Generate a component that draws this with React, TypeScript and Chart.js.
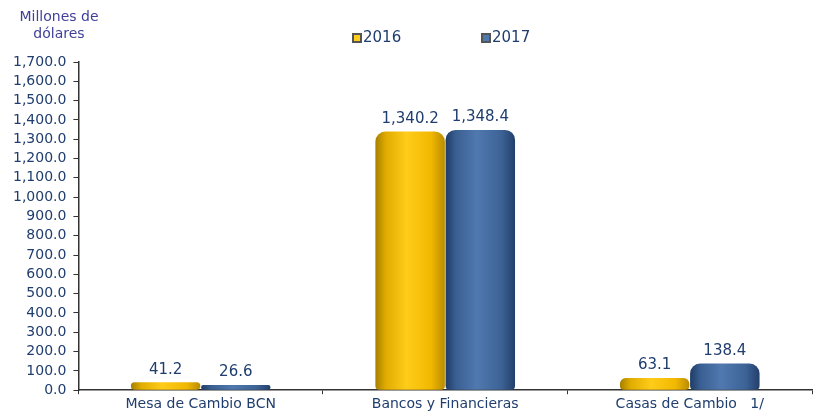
import React, { useEffect, useRef } from "react";
import { Chart, registerables } from "chart.js";

Chart.register(...registerables);

const categories = ["Mesa de Cambio BCN", "Bancos y Financieras", "Casas de Cambio   1/"];
const seriesNames = ["2016", "2017"];
const values2016 = [41.2, 1340.2, 63.1];
const values2017 = [26.6, 1348.4, 138.4];
const axisTitle = ["Millones de", "dólares"];

const FONT = "'DejaVu Sans', Verdana, sans-serif";
const TEXT = "#1F3D6E";

const palettes = [
  ["#A67F00", "#E0AC00", "#FFCC1A", "#F2B800", "#B88C00"],
  ["#1F3C66", "#3A5F92", "#5079B0", "#3D6396", "#233F6B"],
];

const fmt = (v: number) =>
  v.toLocaleString("en-US", { minimumFractionDigits: 1, maximumFractionDigits: 1 });

const gradientPlugin = {
  id: "cylGradient",
  afterDatasetsUpdate(chart: any) {
    const ctx = chart.ctx;
    chart.data.datasets.forEach((ds: any, di: number) => {
      const meta = chart.getDatasetMeta(di);
      meta.data.forEach((el: any) => {
        const left = el.x - el.width / 2;
        const right = el.x + el.width / 2;
        if (!isFinite(left) || !isFinite(right)) return;
        const g = ctx.createLinearGradient(left, 0, right, 0);
        const p = palettes[di];
        g.addColorStop(0, p[0]);
        g.addColorStop(0.15, p[1]);
        g.addColorStop(0.45, p[2]);
        g.addColorStop(0.8, p[3]);
        g.addColorStop(1, p[4]);
        el.options = Object.assign({}, el.options, { backgroundColor: g });
      });
    });
  },
};

const labelsPlugin = {
  id: "valueLabels",
  afterDatasetsDraw(chart: any) {
    const ctx = chart.ctx;
    ctx.save();
    ctx.font = `15px ${FONT}`;
    ctx.fillStyle = TEXT;
    ctx.textAlign = "center";
    ctx.textBaseline = "bottom";
    chart.data.datasets.forEach((ds: any, di: number) => {
      const meta = chart.getDatasetMeta(di);
      meta.data.forEach((el: any, i: number) => {
        ctx.fillText(fmt(ds.data[i]), el.x, el.y - 5);
      });
    });
    ctx.restore();
  },
};

const decorPlugin = {
  id: "decor",
  afterDraw(chart: any) {
    const ctx = chart.ctx;
    ctx.save();
    ctx.font = `14px ${FONT}`;
    ctx.fillStyle = "#3F3F9A";
    ctx.textAlign = "center";
    ctx.textBaseline = "middle";
    ctx.fillText(axisTitle[0], 59, 17);
    ctx.fillText(axisTitle[1], 59, 34);
    const items = [
      { x: 352, color: palettes[0] },
      { x: 481, color: palettes[1] },
    ];
    items.forEach((it, i) => {
      const y = 33;
      ctx.fillStyle = "#555";
      ctx.fillRect(it.x, y, 10, 10);
      ctx.fillStyle = it.color[2];
      ctx.fillRect(it.x + 2, y + 2, 6, 6);
      ctx.font = `15px ${FONT}`;
      ctx.fillStyle = TEXT;
      ctx.textAlign = "left";
      ctx.textBaseline = "middle";
      ctx.fillText(seriesNames[i], it.x + 11, y + 5);
    });
    ctx.restore();
  },
};

export default function App() {
  const ref = useRef<HTMLCanvasElement>(null);
  useEffect(() => {
    if (!ref.current) return;
    const chart = new Chart(ref.current, {
      type: "bar",
      data: {
        labels: categories,
        datasets: [
          { label: seriesNames[0], data: values2016 },
          { label: seriesNames[1], data: values2017 },
        ],
      },
      options: {
        animation: false,
        responsive: false,
        maintainAspectRatio: false,
        layout: { padding: { top: 62, right: 8, left: 6, bottom: 2 } },
        datasets: {
          bar: {
            categoryPercentage: 0.574,
            barPercentage: 0.99,
            borderRadius: { topLeft: 10, topRight: 10, bottomLeft: 4, bottomRight: 4 },
            borderSkipped: false,
          },
        } as any,
        plugins: {
          legend: { display: false },
          tooltip: { enabled: false },
        },
        scales: {
          x: {
            grid: {
              offset: true,
              drawOnChartArea: false,
              drawTicks: true,
              tickLength: 4,
              color: "#333",
            },
            border: { color: "#333", width: 1.5 },
            ticks: { color: TEXT, font: { family: FONT, size: 14 }, padding: 2 },
          },
          y: {
            min: 0,
            max: 1700,
            grid: { drawOnChartArea: false, drawTicks: true, tickLength: 5, color: "#333" },
            border: { color: "#333", width: 1.5 },
            ticks: {
              stepSize: 100,
              autoSkip: false,
              color: TEXT,
              font: { family: FONT, size: 14 },
              padding: 7,
              callback: (v: any) => fmt(Number(v)),
            },
          },
        },
      },
      plugins: [gradientPlugin, labelsPlugin, decorPlugin],
    });
    return () => chart.destroy();
  }, []);
  return (
    <div style={{ position: "fixed", left: 0, top: 0, width: 820, height: 417, background: "#fff" }}>
      <canvas ref={ref} width={820} height={417} style={{ width: 820, height: 417 }} />
    </div>
  );
}
